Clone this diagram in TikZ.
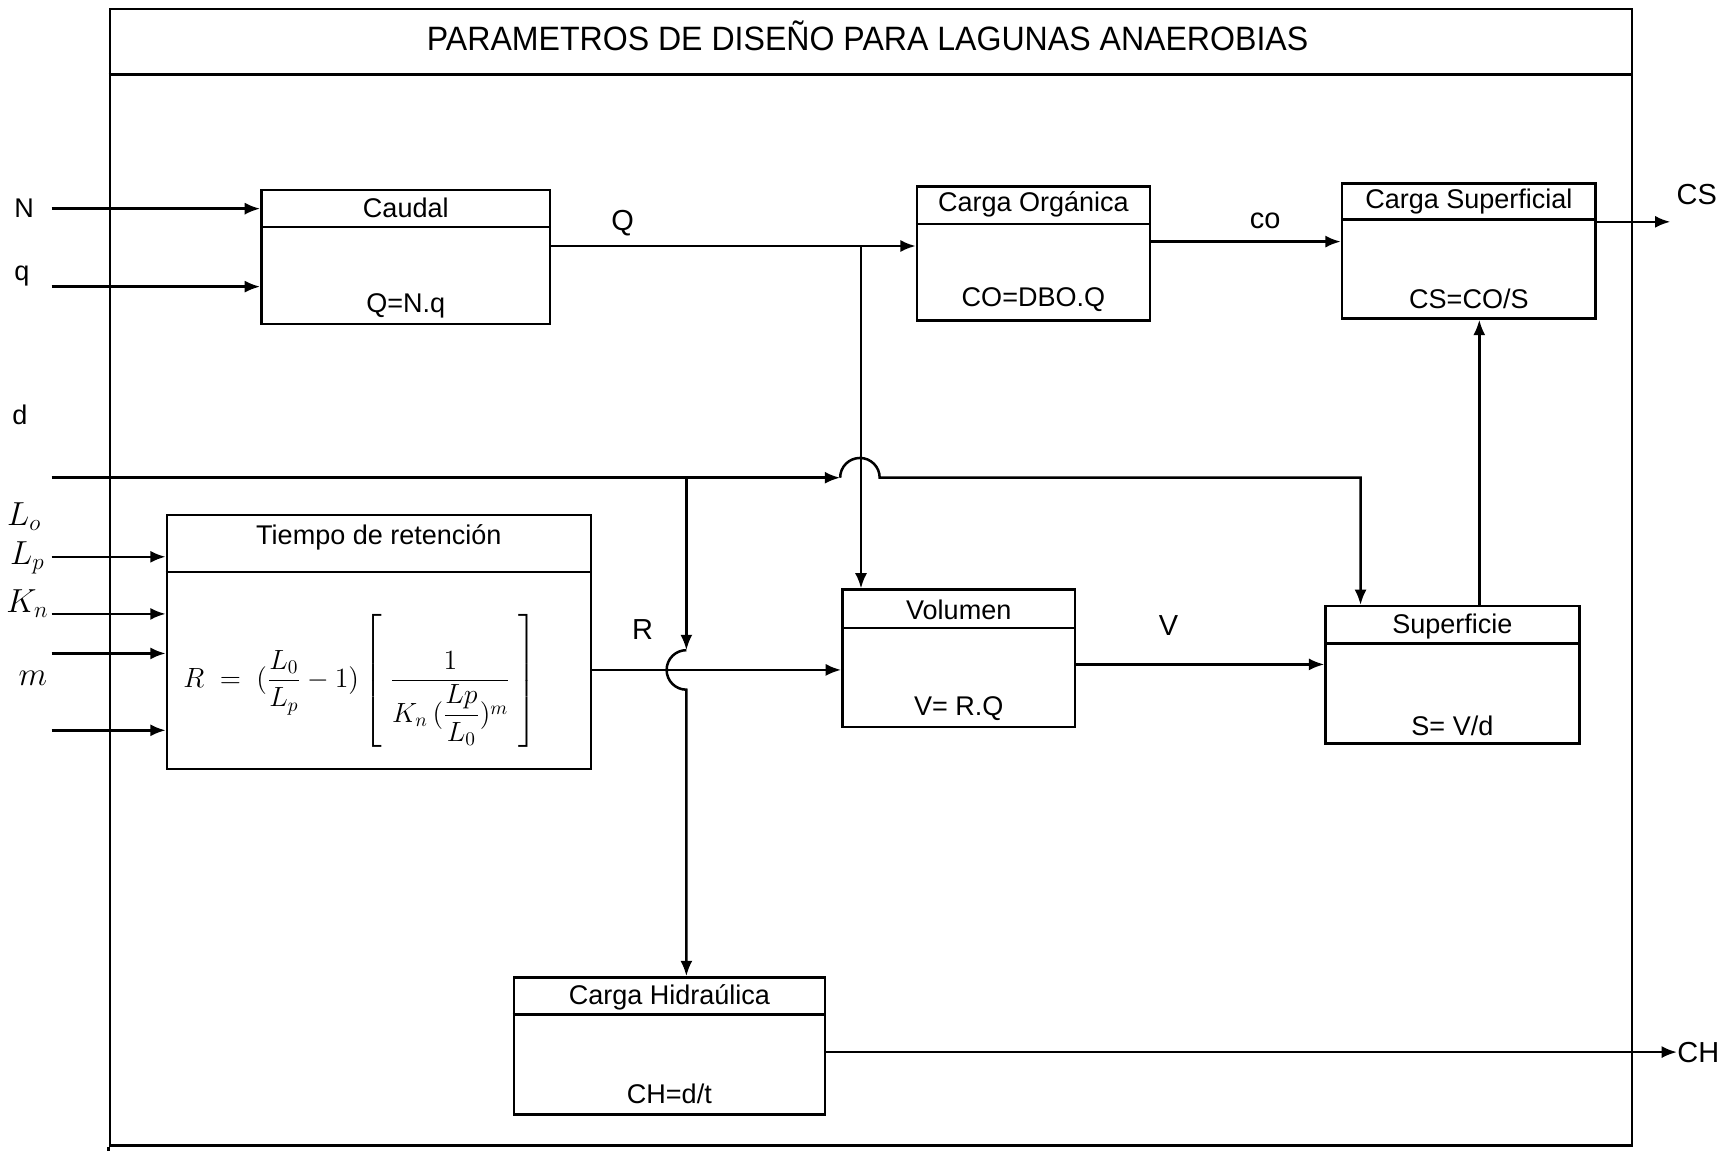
\documentclass[tikz,border=0pt]{standalone}
\usepackage{amsmath}
\usepackage{fontspec}
\setmainfont{Liberation Sans}
\newfontfamily\narrowfont[FakeStretch=0.95]{Liberation Sans}
\usetikzlibrary{arrows.meta,positioning,calc,fit}
\tikzset{
  >={Latex[length=2.8mm,width=2.2mm]},
  outerbox/.style={draw, line width=1.3pt, inner sep=0pt},
  blk/.style={draw, line width=1.3pt, inner sep=0pt},
  wire/.style={line width=1.3pt},
  hdr/.style={font=\fontsize{14}{16}\selectfont, inner sep=0pt},
  frm/.style={font=\fontsize{14}{16}\selectfont, inner sep=0pt},
  sig/.style={font=\fontsize{15}{17}\selectfont, inner sep=0pt},
  inp/.style={font=\fontsize{14}{16}\selectfont, inner sep=0pt},
  var/.style={font=\fontsize{18}{20}\selectfont, inner sep=0pt},
}

\begin{document}
\begin{tikzpicture}[x=0.2mm, y=-0.2mm]
  \useasboundingbox (0,0) rectangle (1568,1048);
  \node[outerbox, fit={(100,8) (1486,1043)}] (panel) {};
  \draw[wire] ($(panel.north west)+(0,61)$) -- ($(panel.north east)+(0,61)$);
  \draw[wire] (panel.south west) -- ++(0,5);
  \node[font=\narrowfont\fontsize{17.5}{20}\selectfont] (title) at (790,33) {PARAMETROS DE DISEÑO PARA LAGUNAS ANAEROBIAS};

  \node[blk, fit={(238,173) (501,295)}] (caudal) {};
  \draw[wire] ($(caudal.north west)+(0,35)$) -- ($(caudal.north east)+(0,35)$);
  \node[hdr] at ($(caudal.north)+(0,17)$) {Caudal};
  \node[frm] at ($(caudal.south)+(0,-18)$) {Q=N.q};

  \node[blk, fit={(835,170) (1047,292)}] (orga) {};
  \draw[wire] ($(orga.north west)+(0,35)$) -- ($(orga.north east)+(0,35)$);
  \node[hdr] at ($(orga.north)+(0,17)$) {Carga Orgánica};
  \node[frm] at ($(orga.south)+(0,-20)$) {CO=DBO.Q};

  \node[blk, fit={(1222,167) (1453,290)}] (csup) {};
  \draw[wire] ($(csup.north west)+(0,34)$) -- ($(csup.north east)+(0,34)$);
  \node[hdr] at ($(csup.north)+(0,18)$) {Carga Superficial};
  \node[frm] at ($(csup.south)+(0,-19)$) {CS=CO/S};

  \node[blk, fit={(152,469) (538,700)}] (tiempo) {};
  \draw[wire] ($(tiempo.north west)+(0,53)$) -- ($(tiempo.north east)+(0,53)$);
  \node[hdr] at ($(tiempo.north)+(0,21)$) {Tiempo de retención};
  \node[font=\fontsize{14.5}{17}\selectfont] (rform) at (328,620)
    {$\displaystyle R \;=\; (\frac{L_{0}}{L_{p}}-1)\left[\;\frac{1}{K_{n}\,(\dfrac{Lp}{L_{0}})^{m}}\;\right]$};

  \node[blk, fit={(767,537) (979,662)}] (vol) {};
  \draw[wire] ($(vol.north west)+(0,36)$) -- ($(vol.north east)+(0,36)$);
  \node[hdr] at ($(vol.north)+(0,19)$) {Volumen};
  \node[frm] at ($(vol.south)+(0,-18)$) {V= R.Q};

  \node[blk, fit={(1207,552) (1438,677)}] (sup) {};
  \draw[wire] ($(sup.north west)+(0,35)$) -- ($(sup.north east)+(0,35)$);
  \node[hdr] at ($(sup.north)+(0,20)$) {Superficie};
  \node[frm] at ($(sup.south)+(0,-17)$) {S= V/d};

  \node[blk, fit={(468,890) (751,1015)}] (hid) {};
  \draw[wire] ($(hid.north west)+(0,35)$) -- ($(hid.north east)+(0,35)$);
  \node[hdr] at ($(hid.north)+(0,19)$) {Carga Hidraúlica};
  \node[frm] at ($(hid.south)+(0,-20)$) {CH=d/t};

  \node[inp] at (22,190) {N};
  \node[inp] at (20,251) {q};
  \node[inp] at (18,378) {d};
  \node[var] at (22,470) {$L_o$};
  \node[var] at (25,508) {$L_p$};
  \node[var] at (25,550) {$K_n$};
  \node[var] at (30,618) {$m$};

  \coordinate (nIn) at (47,190);
  \coordinate (qIn) at (47,261);
  \draw[wire,->] (nIn) -- (caudal.west |- nIn);
  \draw[wire,->] (qIn) -- (caudal.west |- qIn);
  \foreach \yy [count=\i] in {507,559,595,665} {
    \coordinate (t\i) at (47,\yy);
    \draw[wire,->] (t\i) -- (tiempo.west |- t\i);
  }

  \coordinate (qJ) at (784,224);
  \draw[wire,->] (caudal.east |- qJ) -- (orga.west |- qJ);
  \draw[wire,->] (qJ) -- (vol.north -| qJ);
  \node[sig] at (567,203) {Q};

  \coordinate (coY) at (0,220);
  \draw[wire,->] (orga.east |- coY) -- (csup.west |- coY);
  \node[sig] at (1152,201) {co};

  \coordinate (csOut) at (1521,202);
  \draw[wire,->] (csup.east |- csOut) -- (csOut);
  \node[sig] at (1545,177) {CS};

  \coordinate (dIn) at (47,435);
  \coordinate (dJ) at (625,435);
  \coordinate (jmpA) at (765,435);
  \coordinate (dDrop) at ($(sup.north west)+(33,0)$);
  \draw[wire,->] (dIn) -- (jmpA);
  \draw[wire,->] (jmpA) arc[start angle=180, end angle=0, radius=3.6mm] -| (dDrop);

  \coordinate (rA) at (625,592);
  \draw[wire,->] (dJ) -- (rA);
  \draw[wire,->] (rA) arc[start angle=90, end angle=270, radius=3.6mm] -- (hid.north -| rA);

  \coordinate (rY) at (0,610);
  \draw[wire,->] (tiempo.east |- rY) -- (vol.west |- rY);
  \node[sig] at (585,573) {R};

  \coordinate (vY) at (0,605);
  \draw[wire,->] (vol.east |- vY) -- (sup.west |- vY);
  \node[sig] at (1064,570) {V};

  \coordinate (csX) at (1347,0);
  \draw[wire,->] (sup.north -| csX) -- (csup.south -| csX);

  \coordinate (chOut) at (1527,958);
  \draw[wire,->] (hid.east |- chOut) -- (chOut);
  \node[sig, anchor=west] at (chOut) {CH};
\end{tikzpicture}
\end{document}
